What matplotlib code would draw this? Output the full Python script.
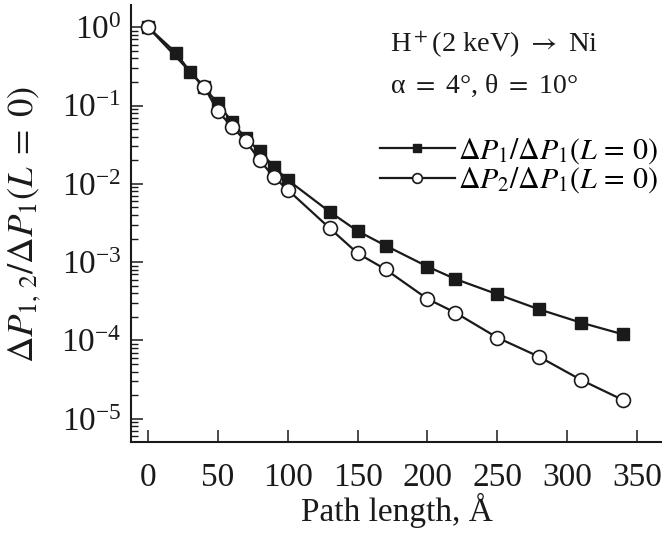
import matplotlib
matplotlib.use("Agg")
import matplotlib.pyplot as plt
from matplotlib.ticker import LogLocator, NullFormatter, FixedLocator

plt.rcParams['font.family'] = ['Liberation Serif', 'DejaVu Serif']
plt.rcParams['mathtext.fontset'] = 'stix'

# data
path_sq = [0, 20, 30, 40, 50, 60, 70, 80, 90, 100, 130, 150, 170, 200, 220, 250, 280, 310, 340]
dp1 = [1.0, 0.47, 0.27, 0.17, 0.107, 0.062, 0.038, 0.026, 0.0166, 0.0112,
       4.4e-3, 2.5e-3, 1.63e-3, 8.8e-4, 6.1e-4, 3.9e-4, 2.5e-4, 1.69e-4, 1.2e-4]

path_ci = [0, 40, 50, 60, 70, 80, 90, 100, 130, 150, 170, 200, 220, 250, 280, 310, 340]
dp2 = [1.0, 0.175, 0.084, 0.054, 0.035, 0.020, 0.0122, 0.0084,
       2.72e-3, 1.30e-3, 8.1e-4, 3.4e-4, 2.27e-4, 1.09e-4, 6.2e-5, 3.14e-5, 1.74e-5]

xticks = [0, 50, 100, 150, 200, 250, 300, 350]

fig = plt.figure(figsize=(6.62, 5.40), dpi=100)
ax = fig.add_axes([0.198, 0.182, 0.802, 0.809])

ax.plot(path_sq, dp1, '-s', color='#1a1a1a', lw=1.6, ms=9, mfc='#1a1a1a', mec='#1a1a1a',
        label=r'$\Delta P_1/\Delta P_1(L\,=\,0)$')
ax.plot(path_ci, dp2, '-o', color='#1a1a1a', lw=1.6, ms=10, mfc='white', mec='#1a1a1a', mew=1.2,
        label=r'$\Delta P_2/\Delta P_1(L\,=\,0)$')

ax.set_yscale('log')
ax.set_xlim(-12.2, 368)
ax.set_ylim(5.1e-6, 1.93)
ax.xaxis.set_major_locator(FixedLocator(xticks))
ax.yaxis.set_major_locator(LogLocator(base=10, numticks=10))
ax.yaxis.set_minor_locator(LogLocator(base=10, subs=range(2, 10), numticks=20))
ax.yaxis.set_minor_formatter(NullFormatter())

for s in ['top', 'right']:
    ax.spines[s].set_visible(False)
for s in ['left', 'bottom']:
    ax.spines[s].set_linewidth(1.5)
    ax.spines[s].set_color('#1a1a1a')

ax.tick_params(which='major', direction='in', length=8.5, width=1.1, labelsize=24, colors='#1a1a1a')
ax.tick_params(which='minor', direction='in', length=5, width=1.0, colors='#1a1a1a')
ax.tick_params(axis='x', pad=15)
ax.tick_params(axis='y', pad=7)

ax.set_xlabel('Path length, Å', fontsize=24, labelpad=0, color='#1a1a1a')
ax.set_ylabel(r'$\Delta P_{1,\,2}/\Delta P_1(L\;=\;0)$', fontsize=26.5, color='#1a1a1a')
ax.yaxis.set_label_coords(-0.165, 0.497)

ax.text(0.488, 0.908, r'H$^+$(2 keV) $\rightarrow$ Ni', transform=ax.transAxes,
        fontsize=20.5, va='center', ha='left', color='#1a1a1a')
ax.text(0.488, 0.815, r'α $=$ 4°, θ $=$ 10°', transform=ax.transAxes,
        fontsize=20, va='center', ha='left', color='#1a1a1a')

ax.legend(loc='upper left', bbox_to_anchor=(0.469, 0.70), frameon=False, fontsize=21.5,
          handlelength=2.5, handletextpad=0.1, labelspacing=0.0, borderpad=0, borderaxespad=0,
          markerscale=0.7)

fig.savefig('out.png', dpi=100)
